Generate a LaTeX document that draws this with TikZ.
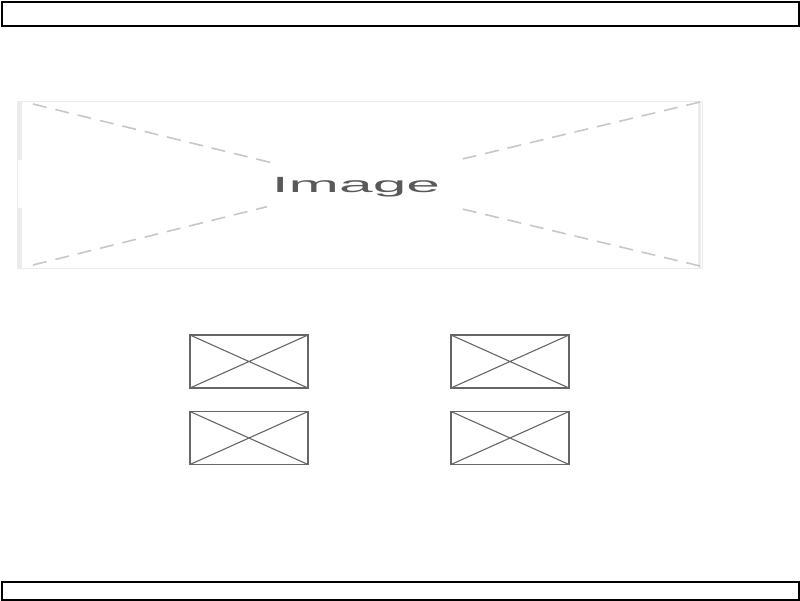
\documentclass[tikz,border=0pt]{standalone}
\usepackage{fontspec}
\setmainfont{Liberation Sans}
\usetikzlibrary{calc}
\begin{document}
\begin{tikzpicture}[x=1pt,y=-1pt,
  bar/.style={draw=black,line width=2pt},
  thumb/.style={draw=black!60,line width=1.6pt,minimum width=118pt,minimum height=53pt,inner sep=0pt,
    path picture={\draw[black!60,line width=1.1pt] (path picture bounding box.north west)--(path picture bounding box.south east)
      (path picture bounding box.south west)--(path picture bounding box.north east);}},
  diag/.style={draw=black!22,line width=1.6pt,dash pattern=on 14pt off 9pt},
  frame/.style={draw=black!8,line width=1pt}]
\useasboundingbox (0,0) rectangle (800,600);
% top and bottom bars
\node[bar,minimum width=797pt,minimum height=24pt,inner sep=0pt,anchor=north west] (top) at (1,1) {};
\node[bar,minimum width=797pt,minimum height=18pt,inner sep=0pt,anchor=north west] (bottom) at (1,581) {};
% image placeholder
\node[frame,minimum width=685pt,minimum height=167pt,inner sep=0pt,anchor=north west] (img) at (17,101) {};
\draw[black!8,line width=4pt] (19.5,101)--(19.5,160) (19.5,208)--(19.5,268);
\draw[black!8,line width=3pt] (699.5,101)--(699.5,268);
\node[text=black!65,font=\fontsize{22}{26}\selectfont,xscale=2.75,inner sep=0pt] (lbl) at (356,187) {Image};
\coordinate (c) at (358,184);
\coordinate (tl) at (33,104);
\coordinate (bl) at (33,265);
\coordinate (tr) at (700,102);
\coordinate (br) at (700,266);
\draw[diag] (tl) -- ($(tl)!0.74!(c)$);
\draw[diag] (bl) -- ($(bl)!0.72!(c)$);
\draw[diag] (tr) -- ($(tr)!0.71!(c)$);
\draw[diag] (br) -- ($(br)!0.70!(c)$);
% thumbnails
\node[thumb] (t1) at (249,361.5) {};
\node[thumb] (t2) at (510,361.5) {};
\node[thumb] (t3) at (249,438) {};
\node[thumb] (t4) at (510,438) {};
\end{tikzpicture}
\end{document}
